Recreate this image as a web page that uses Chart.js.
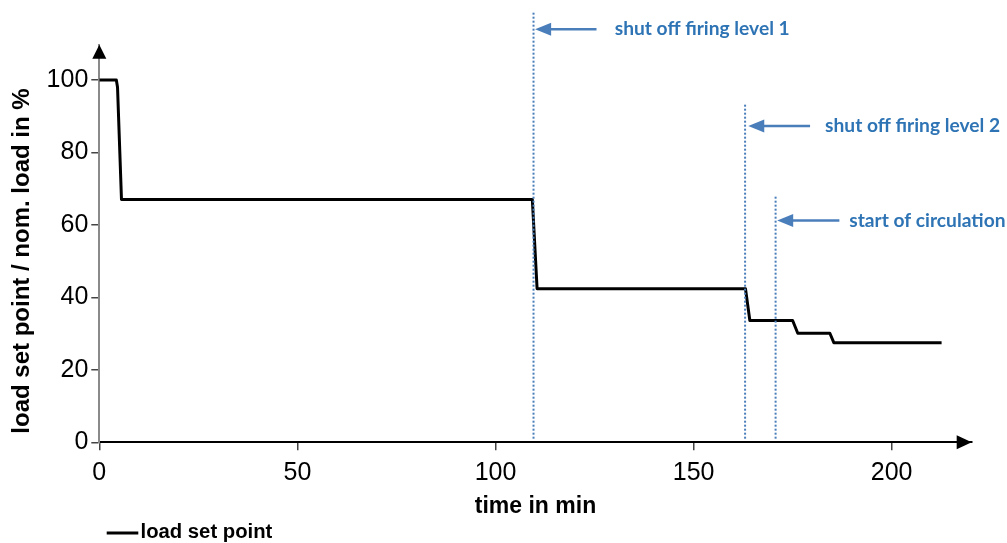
<!DOCTYPE html>
<html><head><meta charset="utf-8">
<script src="https://cdn.jsdelivr.net/npm/chart.js@4/dist/chart.umd.min.js"></script>
<style>html,body{margin:0;padding:0;background:#fff}#wrap{width:1007px;height:543px;position:relative}</style>
</head><body><div id="wrap"><canvas id="c"></canvas></div>
<script>
// ---- data ----
const timeMin = [0, 4.3, 4.6, 5.6, 109.3, 110.5, 163.1, 164.2, 175.0, 176.3, 184.4, 185.4, 212.6];
const loadPct = [100, 100, 98, 67, 67, 42.4, 42.4, 33.6, 33.6, 30.1, 30.1, 27.5, 27.5];
const xTicks = [0, 50, 100, 150, 200];
const yTicks = [0, 20, 40, 60, 80, 100];
const markerX = [109.6, 163.0, 170.7];
const markerTop = [118.9, 93.6, 67.8];
const markerBottom = 1;
const noteText = ['shut off firing level 1', 'shut off firing level 2', 'start of circulation'];
const noteY = [114.0, 87.3, 61.2];
const noteTip = [110.0, 163.8, 171.1];
const noteTail = [125.5, 179.4, 186.8];
const noteTextX = [130.1, 183.2, 189.3];
const seriesLabel = 'load set point';
const xTitle = 'time in min';
const yTitle = 'load set point / nom. load in %';

const SANS = '"Liberation Sans", Arial, sans-serif';
const NOTE_FONT = 'bold 19.2px Lato, "Open Sans", sans-serif';
const BLUE_TXT = '#2e74b5';
const BLUE_LN = '#4a7ebb';

const datasets = [{
  label: seriesLabel,
  data: timeMin.map((t, i) => ({x: t, y: loadPct[i]})),
  borderColor: '#000', borderWidth: 3, pointRadius: 0, tension: 0,
  borderJoinStyle: 'round', order: 2
}];
markerX.forEach((mx, i) => {
  datasets.push({
    label: 'marker' + i,
    data: [{x: mx, y: markerBottom}, {x: mx, y: markerTop[i]}],
    borderColor: BLUE_LN, borderWidth: 2, borderDash: [2, 2],
    pointRadius: 0, clip: false, order: 1
  });
});

const decor = {
  id: 'decor',
  afterDraw(chart) {
    const ctx = chart.ctx, xs = chart.scales.x, ys = chart.scales.y;
    const ca = chart.chartArea;
    ctx.save();
    // y axis arrow
    ctx.fillStyle = '#000';
    ctx.beginPath();
    ctx.moveTo(ca.left, ca.top);
    ctx.lineTo(ca.left - 7, ca.top + 14);
    ctx.lineTo(ca.left + 7, ca.top + 14);
    ctx.closePath(); ctx.fill();
    // x axis arrow
    ctx.beginPath();
    ctx.moveTo(ca.right, ca.bottom);
    ctx.lineTo(ca.right - 15, ca.bottom - 7);
    ctx.lineTo(ca.right - 15, ca.bottom + 7);
    ctx.closePath(); ctx.fill();
    // y title
    ctx.save();
    ctx.translate(22, 261);
    ctx.rotate(-Math.PI / 2);
    ctx.font = 'bold 24px ' + SANS;
    ctx.textAlign = 'center'; ctx.textBaseline = 'middle';
    ctx.fillText(yTitle, 0, 0);
    ctx.restore();
    // annotations
    noteText.forEach((t, i) => {
      const y = ys.getPixelForValue(noteY[i]);
      const tip = xs.getPixelForValue(noteTip[i]);
      const tail = xs.getPixelForValue(noteTail[i]);
      ctx.strokeStyle = BLUE_LN; ctx.fillStyle = BLUE_LN; ctx.lineWidth = 2.5;
      ctx.beginPath(); ctx.moveTo(tail, y); ctx.lineTo(tip + 12, y); ctx.stroke();
      ctx.beginPath();
      ctx.moveTo(tip, y); ctx.lineTo(tip + 16, y - 6.5); ctx.lineTo(tip + 16, y + 6.5);
      ctx.closePath(); ctx.fill();
      ctx.fillStyle = BLUE_TXT;
      ctx.font = NOTE_FONT;
      ctx.textAlign = 'left'; ctx.textBaseline = 'middle';
      ctx.fillText(t, xs.getPixelForValue(noteTextX[i]), y);
    });
    // legend
    ctx.strokeStyle = '#000'; ctx.lineWidth = 3;
    ctx.beginPath(); ctx.moveTo(106.7, 533); ctx.lineTo(138.3, 533); ctx.stroke();
    ctx.fillStyle = '#000';
    ctx.font = 'bold 20.3px ' + SANS;
    ctx.textAlign = 'left'; ctx.textBaseline = 'alphabetic';
    ctx.fillText(chart.data.datasets[0].label, 140.5, 537.5);
    ctx.restore();
  }
};

new Chart(document.getElementById('c'), {
  type: 'line',
  data: {datasets},
  plugins: [decor],
  options: {
    responsive: true, maintainAspectRatio: false, animation: false, devicePixelRatio: 1,
    layout: {padding: {top: 44.8, right: 35.3, left: 0, bottom: 0}},
    plugins: {legend: {display: false}, tooltip: {enabled: false}},
    scales: {
      x: {
        type: 'linear', min: 0, max: 220.2, position: 'bottom',
        afterBuildTicks: s => { s.ticks = xTicks.map(v => ({value: v})); },
        afterFit: s => { s.height = 100.7; },
        ticks: {font: {family: SANS, size: 25}, color: '#000', padding: 8, maxRotation: 0, autoSkip: false},
        grid: {drawOnChartArea: false, drawTicks: true, tickLength: 8, color: '#444', lineWidth: 1.5},
        border: {display: true, color: '#000', width: 2},
        title: {display: true, text: xTitle, color: '#000', font: {family: SANS, size: 23, weight: 'bold'}, padding: {top: 0, bottom: 23}}
      },
      y: {
        type: 'linear', min: 0, max: 109.7,
        afterBuildTicks: s => { s.ticks = yTicks.map(v => ({value: v})); },
        afterFit: s => { s.width = 99.3; },
        ticks: {font: {family: SANS, size: 25}, color: '#000', padding: 3, autoSkip: false},
        grid: {drawOnChartArea: false, drawTicks: true, tickLength: 8, color: '#444', lineWidth: 1.5},
        border: {display: true, color: '#8a8a8a', width: 2},
        title: {display: false}
      }
    }
  }
});
</script>
</body></html>
